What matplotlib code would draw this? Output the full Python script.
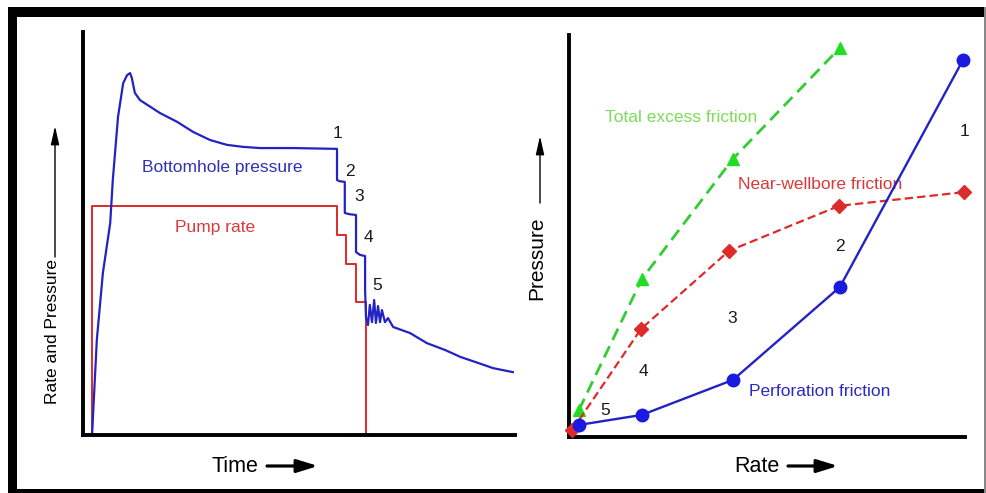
import matplotlib
matplotlib.use("Agg")
import matplotlib.pyplot as plt
from matplotlib.patches import Rectangle, FancyArrowPatch

plt.rcParams['font.family'] = ['Liberation Sans', 'DejaVu Sans']
plt.rcParams['lines.scale_dashes'] = False

# ---- Left panel data (arbitrary units 0-100) ----
bhp_time = [2.1, 2.5, 3.2, 4.6, 6.3, 6.9, 8.1, 9.3, 10.2, 10.9, 11.3, 12.0, 13.2, 17.8,
            21.8, 25.5, 29.4, 33.3, 37.0, 41.0, 48.6, 58.8, 58.8, 59.3, 60.6, 60.6, 61.6,
            63.2, 63.2, 64.1, 65.3, 65.3, 65.5, 65.97, 66.4, 66.9, 67.4, 67.8, 68.3, 68.75,
            69.2, 69.9, 70.6, 71.8, 75.7, 79.6, 83.8, 87.3, 91.4, 94.9, 99.5]
bhp_pres = [0.0, 8.7, 23.6, 40.2, 52.6, 63.3, 78.9, 87.3, 89.3, 89.8, 88.6, 84.9, 83.1, 79.9,
            77.7, 75.2, 73.2, 72.0, 71.5, 71.2, 71.2, 71.0, 63.3, 63.0, 62.8, 55.1, 54.8,
            54.6, 45.4, 44.7, 44.4, 36.0, 29.3, 27.3, 32.3, 28.0, 33.5, 27.8, 32.0, 28.0,
            31.0, 28.0, 29.0, 26.8, 25.3, 22.8, 21.1, 19.4, 17.9, 16.6, 15.6]

pump_time = [2.1, 2.1, 58.8, 58.8, 60.9, 60.9, 63.2, 63.2, 65.5, 65.5]
pump_rate = [0.0, 56.8, 56.8, 49.6, 49.6, 42.4, 42.4, 33.0, 33.0, 0.0]

left_step_labels = ["1", "2", "3", "4", "5"]
left_step_x = [59.0, 61.8, 63.9, 66.0, 68.1]
left_step_y = [74.9, 65.5, 59.1, 48.9, 37.0]

# ---- Right panel data ----
perf_rate = [2.5, 18.4, 41.4, 68.4, 99.5]
perf_fric = [3.0, 5.5, 14.2, 37.3, 93.8]
nwb_rate = [0.8, 18.2, 40.4, 68.2, 99.7]
nwb_fric = [1.7, 26.9, 46.3, 57.5, 60.9]
tot_rate = [2.5, 18.4, 41.4, 68.4]
tot_fric = [6.7, 39.3, 69.2, 96.8]

right_step_labels = ["1", "2", "3", "4", "5"]
right_step_x = [100.0, 68.4, 41.2, 18.7, 9.1]
right_step_y = [75.9, 47.3, 29.6, 16.2, 6.7]

BLUE = '#2323c4'
RED = '#dd2a2a'
GREEN = '#33cc33'
GREEN_TXT = '#7ddc5a'

W, H = 987, 493
fig = plt.figure(figsize=(W / 100, H / 100), dpi=100)
fig.patch.set_facecolor('white')


def ax_at(x0, y0, x1, y1):
    # pixel box (image coords, y down) -> figure fraction
    return fig.add_axes([x0 / W, 1 - y1 / H, (x1 - x0) / W, (y1 - y0) / H])


def style(ax):
    for s in ['top', 'right']:
        ax.spines[s].set_visible(False)
    for s in ['left', 'bottom']:
        ax.spines[s].set_linewidth(2.8)
        ax.spines[s].set_color('black')
    ax.set_xticks([])
    ax.set_yticks([])
    ax.set_xlim(0, 100)
    ax.set_ylim(0, 100)
    ax.patch.set_alpha(0)


# Left panel
ax1 = ax_at(83, 32, 515, 435)
style(ax1)
ax1.plot(pump_time, pump_rate, color=RED, lw=1.4)
ax1.plot(bhp_time, bhp_pres, color=BLUE, lw=1.6)
ax1.text(32.2, 66.3, "Bottomhole pressure", color='#3030b8', fontsize=12.5,
         ha='center', va='center')
ax1.text(30.6, 51.4, "Pump rate", color='#d83a3a', fontsize=12.5,
         ha='center', va='center')
for lab, x, y in zip(left_step_labels, left_step_x, left_step_y):
    ax1.text(x, y, lab, color='#1a1a1a', fontsize=12.5, ha='center', va='center')

# Right panel
ax2 = ax_at(569, 35, 965, 437)
style(ax2)
ax2.plot(tot_rate, tot_fric, color=GREEN, lw=2.0, dashes=(9, 5),
         marker='^', markersize=9, markerfacecolor='#22dd22', markeredgecolor='#22dd22',
         clip_on=False, zorder=3)
ax2.plot(nwb_rate, nwb_fric, color=RED, lw=1.6, dashes=(6, 3),
         marker='D', markersize=7, markerfacecolor=RED, markeredgecolor=RED,
         clip_on=False, zorder=3)
ax2.plot(perf_rate, perf_fric, color=BLUE, lw=1.7,
         marker='o', markersize=9, markerfacecolor='#1a1ae0', markeredgecolor='#1a1ae0',
         clip_on=False, zorder=4)
ax2.text(28.3, 79.6, "Total excess friction", color=GREEN_TXT, fontsize=12.5,
         ha='center', va='center')
ax2.text(63.4, 62.7, "Near-wellbore friction", color='#d83a3a', fontsize=12.5,
         ha='center', va='center')
ax2.text(63.4, 11.2, "Perforation friction", color='#2a2ac8', fontsize=12.5,
         ha='center', va='center')
for lab, x, y in zip(right_step_labels, right_step_x, right_step_y):
    ax2.text(x, y, lab, color='#1a1a1a', fontsize=12.5, ha='center', va='center')

# Axis labels with arrows (figure pixel coords, y up)
fig.text(235 / W, 1 - 466 / H, "Time", fontsize=15.5, ha='center', va='center')
fig.text(757 / W, 1 - 466 / H, "Rate", fontsize=15.5, ha='center', va='center')
fig.text(53 / W, 1 - 331 / H, "Rate and Pressure", fontsize=12.5, rotation=90,
         ha='center', va='center')
fig.text(537 / W, 1 - 258 / H, "Pressure", fontsize=15, rotation=90,
         ha='center', va='center')

arrow_thick = dict(arrowstyle='-|>,head_length=0.9,head_width=0.28', lw=2.3, color='black',
                   shrinkA=0, shrinkB=0)
arrow_thin = dict(arrowstyle='-|>,head_length=0.8,head_width=0.18', lw=1.0, color='black',
                  shrinkA=0, shrinkB=0)
fig.add_artist(FancyArrowPatch((267 / W, 1 - 466 / H), (318 / W, 1 - 466 / H),
               transform=fig.transFigure, mutation_scale=14, **arrow_thick))
fig.add_artist(FancyArrowPatch((788 / W, 1 - 466 / H), (838 / W, 1 - 466 / H),
               transform=fig.transFigure, mutation_scale=14, **arrow_thick))
fig.add_artist(FancyArrowPatch((55 / W, 1 - 257 / H), (55 / W, 1 - 126 / H),
               transform=fig.transFigure, mutation_scale=14, **arrow_thin))
fig.add_artist(FancyArrowPatch((540 / W, 1 - 203 / H), (540 / W, 1 - 136 / H),
               transform=fig.transFigure, mutation_scale=14, **arrow_thin))

# Outer frame
def rect_px(x0, y0, x1, y1, color):
    fig.add_artist(Rectangle((x0 / W, 1 - y1 / H), (x1 - x0) / W, (y1 - y0) / H,
                             transform=fig.transFigure, facecolor=color, edgecolor='none'))

rect_px(8, 7, 987, 17, 'black')      # top
rect_px(8, 7, 17, 493, 'black')      # left
rect_px(8, 489, 987, 493, 'black')   # bottom
rect_px(984, 7, 986, 493, '#888888')  # right

fig.savefig("out.png", dpi=100)
